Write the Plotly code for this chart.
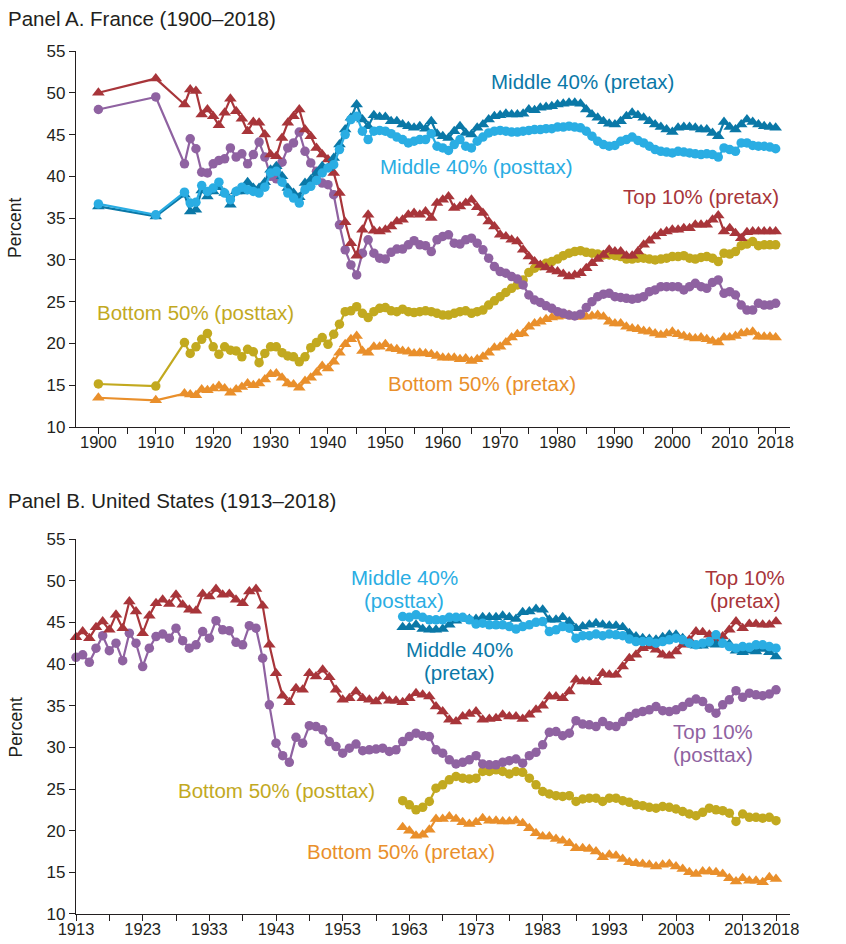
import plotly.graph_objects as go

# ---------------- Panel A: France ----------------
fr_years = [1900, 1910] + list(range(1915, 2019))

fr_top10_pre = [
    50.0, 51.7,
    48.6, 50.4, 50.2, 47.4, 48.0,
    47.2, 46.1, 47.6, 49.3, 47.8, 46.9, 45.4, 46.5, 46.4, 45.0,
    42.6, 42.4, 44.6, 46.4, 47.2, 48.0, 45.6, 44.8, 43.4, 42.6,
    42.0, 40.4, 38.0, 34.5, 32.0, 30.5, 33.6, 35.4, 33.5, 33.4,
    33.6, 34.0, 34.6, 34.8, 35.4, 35.6, 35.4, 35.8, 35.0, 36.8,
    37.2, 37.6, 36.2, 36.4, 36.8, 37.2, 36.3, 35.6, 34.6, 34.0,
    33.0, 32.8, 32.4, 32.2, 31.2, 30.4, 29.8, 29.4, 29.1, 28.8,
    28.6, 28.3, 28.0, 28.2, 28.4, 29.0, 29.6, 30.1, 30.6, 31.2,
    31.0, 31.0, 30.5, 30.5, 31.0, 31.8, 32.3, 32.8, 33.2, 33.4,
    33.6, 33.6, 33.8, 33.8, 34.2, 34.2, 34.2, 34.8, 35.3, 33.4,
    33.8, 33.2, 32.6, 33.3, 33.4, 33.4, 33.4, 33.4, 33.4,
]

fr_top10_post = [
    48.0, 49.5,
    41.5, 44.5, 43.3, 40.5, 40.4,
    41.5, 41.9, 42.1, 43.4, 42.3, 42.7, 41.5, 42.6, 44.1, 42.3,
    40.0, 39.7, 41.7, 43.4, 44.0, 45.3, 43.0, 41.6, 40.6, 39.2,
    39.0, 37.8, 34.2, 31.2, 29.4, 28.2, 30.8, 32.4, 30.8, 30.2,
    30.1, 30.9, 31.3, 31.3, 31.8, 32.3, 31.8, 31.7, 31.0, 32.4,
    32.8, 33.0, 32.0, 31.9, 32.4, 32.6, 32.0, 31.2, 30.2, 29.2,
    28.6, 28.4, 28.0, 27.7, 27.0, 25.8, 25.2, 24.9, 24.5, 24.2,
    23.8, 23.6, 23.4, 23.3, 23.5, 24.3, 25.0, 25.6, 25.9, 26.0,
    25.6, 25.5, 25.4, 25.3, 25.4, 25.6, 26.2, 26.4, 26.8, 26.8,
    26.8, 26.8, 26.4, 26.8, 27.2, 26.8, 26.6, 27.3, 27.6, 26.0,
    26.2, 25.8, 24.6, 24.0, 24.0, 24.8, 24.6, 24.6, 24.8,
]

fr_mid40_pre = [
    36.4, 35.2,
    37.8, 35.8, 36.0, 38.3, 37.6,
    38.2, 38.7, 38.0, 36.6, 38.2, 38.2, 39.3, 38.6, 38.6, 39.3,
    40.8, 41.2, 40.0, 38.6, 38.0, 37.5, 39.2, 39.6, 40.4, 41.2,
    41.0, 42.2, 43.8, 45.6, 47.0, 48.6, 46.8, 46.0, 47.3, 47.1,
    47.1, 46.6, 46.6, 46.2, 46.0, 45.8, 46.0, 45.7, 46.6, 45.1,
    44.8, 44.6, 45.4, 46.0, 45.2, 45.0, 45.8, 46.2, 46.8, 47.2,
    47.3, 47.5, 47.4, 47.4, 47.5, 48.0, 47.9, 48.2, 48.3, 48.4,
    48.6, 48.7, 48.8, 48.8, 48.7, 48.0, 47.4, 47.0, 46.6, 46.3,
    46.2, 46.6, 47.2, 47.6, 47.3, 47.0, 46.6, 46.2, 45.9, 45.6,
    45.3, 45.8, 45.9, 45.9, 45.8, 45.6, 45.6, 45.2, 44.8, 46.5,
    45.9, 45.6, 46.2, 46.8, 46.5, 46.2, 46.0, 45.9, 45.8,
]

fr_mid40_post = [
    36.7, 35.4,
    38.1, 36.8, 36.9, 38.9, 38.2,
    38.6, 39.3, 38.0, 37.2, 38.2, 38.7, 38.4, 38.2, 38.0, 38.7,
    40.4, 40.6, 39.3, 38.0, 37.4, 36.8, 38.4, 38.8, 39.5, 40.4,
    41.0, 41.4, 43.2, 45.0, 46.8, 47.2, 45.4, 44.4, 45.4, 45.5,
    45.4, 45.1, 44.7, 44.4, 44.0, 44.2, 44.4, 44.4, 45.1, 43.6,
    43.4, 43.1, 43.8, 44.4, 43.6, 43.4, 44.2, 44.7, 45.2, 45.4,
    45.5, 45.4, 45.3, 45.3, 45.4, 45.5, 45.6, 45.6, 45.7, 45.7,
    45.9, 45.9, 46.0, 45.9, 45.8, 45.4, 44.8, 44.2, 43.8, 43.6,
    43.7, 44.2, 44.4, 44.7, 44.3, 44.0, 43.6, 43.2, 43.0, 42.9,
    42.8, 43.0, 42.9, 42.8, 42.7, 42.6, 42.7, 42.6, 42.3, 43.4,
    43.2, 43.0, 44.0, 44.0, 43.7, 43.6, 43.6, 43.5, 43.3,
]

fr_bot50_post = [
    15.15, 14.9,
    20.1, 18.8, 19.6, 20.5, 21.2,
    19.6, 18.7, 19.6, 19.2, 19.1, 18.4, 19.3, 19.0, 17.7, 18.8,
    19.6, 19.6, 18.9, 18.5, 18.4, 17.8, 18.4, 19.5, 20.1, 20.7,
    19.9, 21.1, 22.3, 23.8, 23.9, 24.4, 23.6, 23.1, 23.8, 24.2,
    24.3, 23.9, 23.8, 24.1, 23.8, 23.7, 23.8, 23.9, 23.8, 23.6,
    23.4, 23.4, 23.6, 23.8, 23.9, 23.6, 23.8, 24.0, 24.6, 25.1,
    25.6, 26.1, 26.6, 27.0, 27.6, 28.5, 29.0, 29.3, 29.6, 29.8,
    30.1, 30.5, 30.8, 31.0, 31.1, 30.9, 30.8, 30.7, 30.6, 30.6,
    30.5, 30.4, 30.1, 30.1, 30.2, 30.2, 30.1, 30.0, 30.1, 30.2,
    30.4, 30.4, 30.5, 30.2, 30.1, 30.3, 30.4, 30.2, 29.8, 30.8,
    30.7, 31.0, 31.7, 31.9, 32.2, 31.7, 31.8, 31.8, 31.8,
]

fr_bot50_pre = [
    13.5, 13.2,
    14.0, 13.9, 13.8, 14.5, 14.4,
    14.6, 14.9, 14.6, 14.1, 14.5, 14.8, 15.2, 15.0, 15.2, 15.7,
    16.3, 16.4, 15.9, 15.2, 15.1, 14.7, 15.5, 15.9, 16.5, 17.3,
    17.0, 17.8, 18.9, 19.9, 20.5, 20.9, 19.1, 18.9, 19.6, 19.6,
    19.9, 19.4, 19.3, 19.1, 19.0, 18.8, 18.9, 18.8, 18.7, 18.5,
    18.3, 18.3, 18.3, 18.1, 18.2, 17.9, 18.1, 18.4, 18.9, 19.5,
    19.6, 20.1, 20.7, 21.1, 21.2, 22.0, 22.4, 22.6, 22.9, 23.1,
    23.2, 23.3, 23.4, 23.2, 23.2, 23.2, 23.3, 23.4, 23.2, 22.6,
    22.4, 22.4, 22.0, 21.8, 21.7, 21.5, 21.4, 21.2, 21.0, 21.2,
    21.4, 21.1, 20.9, 20.7, 20.6, 20.7, 20.5, 20.3, 20.1, 20.7,
    20.7, 20.9, 21.2, 21.3, 21.4, 20.8, 20.8, 20.8, 20.7,
]

# ---------------- Panel B: United States ----------------
us_years_top = list(range(1913, 2019))
us_years_low = list(range(1962, 2019))

us_top10_pre = [
    43.2, 43.9, 43.1, 44.4, 45.1, 44.1, 45.9,
    44.3, 47.5, 46.3, 43.7, 45.8, 47.3, 47.7, 47.2, 48.3, 47.1,
    46.5, 46.4, 48.4, 48.1, 49.0, 48.3, 48.4, 47.7, 47.3, 48.7,
    49.0, 47.0, 42.3, 38.9, 36.2, 35.4, 37.1, 36.9, 38.9, 38.5,
    39.3, 38.4, 36.9, 35.7, 35.9, 36.7, 35.9, 35.7, 35.5, 36.1,
    35.6, 35.6, 35.4, 35.9, 36.5, 36.3, 36.1, 34.9, 34.3, 33.3,
    33.1, 33.7, 34.0, 34.3, 33.3, 33.4, 33.5, 33.9, 33.7, 33.7,
    33.4, 33.9, 34.5, 35.0, 36.1, 36.1, 35.9, 36.7, 38.1, 37.9,
    37.9, 37.8, 38.9, 38.7, 38.7, 39.7, 40.7, 41.1, 41.9, 42.1,
    41.7, 41.1, 41.0, 41.5, 42.3, 42.9, 43.9, 43.8, 43.5, 42.9,
    43.3, 44.1, 45.1, 44.3, 44.8, 44.8, 44.7, 44.7, 45.1,
]

us_top10_post = [
    40.8, 41.1, 40.2, 41.9, 43.4, 41.6, 42.5,
    40.4, 43.7, 42.5, 39.7, 41.9, 43.3, 43.6, 43.1, 44.3, 42.8,
    41.9, 42.3, 43.9, 43.1, 45.2, 44.1, 44.0, 42.6, 42.3, 44.6,
    44.3, 40.7, 35.1, 30.5, 29.0, 28.2, 31.2, 30.5, 32.6, 32.5,
    32.1, 30.7, 30.1, 29.3, 29.9, 30.4, 29.6, 29.7, 29.8, 29.9,
    29.5, 29.7, 30.7, 31.3, 31.7, 31.4, 31.3, 29.7, 29.3, 28.5,
    28.0, 28.2, 28.5, 29.0, 28.0, 27.9, 27.9, 28.2, 28.4, 28.6,
    28.1, 29.0, 29.4, 30.3, 31.8, 31.9, 31.4, 31.7, 33.2, 32.8,
    32.7, 32.5, 33.1, 32.6, 32.5, 33.1, 33.7, 34.1, 34.3, 34.5,
    34.9, 34.4, 34.3, 34.5, 34.9, 35.4, 35.8, 35.5, 34.7, 34.1,
    35.1, 35.7, 36.8, 36.0, 36.5, 36.3, 36.2, 36.4, 36.9,
]

us_mid40_pre = [
    44.4, 44.4, 44.7, 44.2, 44.1, 44.1, 44.2, 44.7,
    45.2, 45.5, 45.4, 45.4, 45.6, 45.6, 45.6, 45.8, 45.6, 45.4,
    46.2, 46.3, 46.6, 46.5, 45.3, 45.3, 45.6, 45.1, 44.3, 44.5,
    44.7, 44.9, 44.7, 44.6, 44.6, 44.4, 43.7, 43.3, 43.1, 43.0,
    42.9, 43.2, 43.5, 43.5, 43.1, 42.5, 42.2, 42.2, 42.4, 42.3,
    42.6, 42.4, 41.6, 41.4, 41.6, 41.5, 41.8, 41.4, 40.9,
]

us_mid40_post = [
    45.7, 45.6, 45.9, 45.6, 45.3, 45.3, 45.3, 45.6,
    45.6, 45.6, 45.3, 44.8, 44.9, 44.7, 44.7, 44.7, 44.5, 44.2,
    44.5, 44.7, 45.0, 45.1, 43.9, 44.1, 44.5, 44.3, 43.1, 43.4,
    43.4, 43.6, 43.4, 43.6, 43.5, 43.4, 43.0, 42.7, 42.7, 42.7,
    42.5, 42.7, 42.9, 43.1, 42.9, 42.5, 42.3, 42.5, 42.7, 43.5,
    42.5, 42.1, 41.9, 42.1, 42.0, 42.3, 42.3, 42.1, 41.9,
]

us_bot50_post = [
    23.6, 23.1, 22.5, 22.8, 23.5, 25.1, 25.5, 26.1,
    26.5, 26.3, 26.2, 26.3, 27.1, 27.1, 27.3, 27.1, 26.8, 27.1,
    27.0, 26.3, 25.5, 24.7, 24.4, 24.2, 24.1, 24.2, 23.5, 23.8,
    23.9, 23.9, 23.5, 23.9, 23.9, 23.6, 23.4, 23.1, 23.0, 22.8,
    22.7, 22.9, 22.8, 22.6, 22.3, 22.0, 21.8, 22.2, 22.7, 22.5,
    22.4, 22.1, 21.1, 22.0, 21.6, 21.6, 21.5, 21.6, 21.2,
]

us_bot50_pre = [
    20.4, 20.0, 19.4, 19.5, 20.1, 21.4, 21.4, 21.7,
    21.4, 21.0, 20.8, 21.0, 21.5, 21.2, 21.2, 21.1, 21.1, 21.2,
    20.9, 20.3, 19.7, 19.3, 19.3, 19.0, 18.8, 18.5, 17.9, 17.9,
    17.8, 17.5, 16.8, 17.1, 17.0, 16.6, 16.2, 16.1, 16.0, 15.9,
    15.7, 15.9, 16.0, 15.7, 15.4, 15.0, 14.8, 15.1, 15.1, 15.0,
    14.8, 14.3, 13.9, 14.3, 14.0, 14.0, 13.8, 14.4, 14.2,
]

# Tick labels
fr_tickvals = list(range(1900, 2016, 5)) + [2018]
fr_ticktext = [str(v) if v % 10 == 0 else "" for v in range(1900, 2016, 5)] + ["2018"]
us_tickvals = list(range(1913, 2019, 5))
us_ticktext = [str(v) if (v - 1913) % 10 == 0 else "" for v in us_tickvals]
us_last_tick = [2018]
us_last_text = ["2018"]
y_tickvals = list(range(10, 56, 5))

# Colours
C_T10PRE = "#a8353a"
C_T10POST = "#8f62a1"
C_M40PRE = "#0a78a7"
C_M40POST = "#2aade3"
C_B50POST = "#c2a91f"
C_B50PRE = "#e98f2b"
INK = "#231f20"
FONT = "Liberation Sans, Arial, Helvetica, sans-serif"
XTICK_SIZE = 16.5
YTICK_SIZE = 17

fig = go.Figure()


def add(x, y, color, symbol, xa, ya):
    size = 11 if symbol == "triangle-up" else 9.5
    fig.add_trace(go.Scatter(
        x=x, y=y, mode="lines+markers",
        line=dict(color=color, width=2.2),
        marker=dict(symbol=symbol, size=size, color=color, line=dict(width=0)),
        xaxis=xa, yaxis=ya, cliponaxis=False, showlegend=False, hoverinfo="skip"))


# Panel A
add(fr_years, fr_bot50_pre, C_B50PRE, "triangle-up", "x", "y")
add(fr_years, fr_bot50_post, C_B50POST, "circle", "x", "y")
add(fr_years, fr_top10_post, C_T10POST, "circle", "x", "y")
add(fr_years, fr_top10_pre, C_T10PRE, "triangle-up", "x", "y")
add(fr_years, fr_mid40_pre, C_M40PRE, "triangle-up", "x", "y")
add(fr_years, fr_mid40_post, C_M40POST, "circle", "x", "y")

# Panel B
add(us_years_low, us_bot50_pre, C_B50PRE, "triangle-up", "x2", "y2")
add(us_years_low, us_bot50_post, C_B50POST, "circle", "x2", "y2")
add(us_years_top, us_top10_post, C_T10POST, "circle", "x2", "y2")
add(us_years_top, us_top10_pre, C_T10PRE, "triangle-up", "x2", "y2")
add(us_years_low, us_mid40_pre, C_M40PRE, "triangle-up", "x2", "y2")
add(us_years_low, us_mid40_post, C_M40POST, "circle", "x2", "y2")

# empty trace so that the overlay axis carrying the last label is drawn
fig.add_trace(go.Scatter(x=[], y=[], xaxis="x3", yaxis="y2", showlegend=False,
                         hoverinfo="skip"))

axis_common = dict(
    showline=True, linecolor=INK, linewidth=1.2,
    ticks="outside", ticklen=6, tickwidth=1.2, tickcolor=INK,
    showgrid=False, zeroline=False, automargin=False, tickangle=0,
)
xfont = dict(family=FONT, size=XTICK_SIZE, color=INK)
yfont = dict(family=FONT, size=YTICK_SIZE, color=INK)

fig.update_layout(
    width=846, height=944,
    margin=dict(l=76, r=56, t=51, b=30),
    plot_bgcolor="white", paper_bgcolor="white",
    showlegend=False,
    xaxis=dict(domain=[0, 1], anchor="y", range=[1896.1, 2020.5],
               tickmode="array", tickvals=fr_tickvals, ticktext=fr_ticktext,
               tickfont=xfont, ticklabelstandoff=-6, **axis_common),
    yaxis=dict(domain=[0.5643, 1], anchor="x", range=[10, 55],
               tickmode="array", tickvals=y_tickvals, tickfont=yfont, **axis_common),
    xaxis2=dict(domain=[0, 1], anchor="y2", range=[1913, 2020.1],
                tickmode="array", tickvals=us_tickvals, ticktext=us_ticktext,
                tickfont=xfont, ticklabelstandoff=-6, **axis_common),
    yaxis2=dict(domain=[0, 0.4345], anchor="x2", range=[10, 55],
                tickmode="array", tickvals=y_tickvals, tickfont=yfont, **axis_common),
    xaxis3=dict(overlaying="x2", anchor="y2", range=[1913, 2020.1], side="bottom",
                tickmode="array", tickvals=us_last_tick, ticktext=us_last_text,
                showline=False, showgrid=False, zeroline=False, ticks="outside",
                ticklen=6, tickwidth=1.2, tickcolor=INK, tickangle=0,
                ticklabelshift=5, ticklabelstandoff=-6, automargin=False,
                tickfont=xfont),
)

ANN = 20.5
labels = [
    # Panel A
    ("Middle 40% (pretax)", 1984.4, 51.35, C_M40PRE, "x", "y"),
    ("Middle 40% (posttax)", 1965.8, 41.2, C_M40POST, "x", "y"),
    ("Top 10% (pretax)", 2005.0, 37.6, C_T10PRE, "x", "y"),
    ("Top 10%", 2022.8, 29.14, C_T10POST, "x", "y"),
    ("(posttax)", 2022.9, 26.38, C_T10POST, "x", "y"),
    ("Bottom 50% (posttax)", 1917.0, 23.7, C_B50POST, "x", "y"),
    ("Bottom 50% (pretax)", 1966.9, 15.2, C_B50PRE, "x", "y"),
    # Panel B
    ("Middle 40%", 1962.3, 50.42, C_M40POST, "x2", "y2"),
    ("(posttax)", 1962.25, 47.66, C_M40POST, "x2", "y2"),
    ("Middle 40%", 1970.5, 41.78, C_M40PRE, "x2", "y2"),
    ("(pretax)", 1970.5, 39.02, C_M40PRE, "x2", "y2"),
    ("Top 10%", 2013.4, 50.42, C_T10PRE, "x2", "y2"),
    ("(pretax)", 2013.4, 47.66, C_T10PRE, "x2", "y2"),
    ("Top 10%", 2008.5, 31.88, C_T10POST, "x2", "y2"),
    ("(posttax)", 2008.5, 29.12, C_T10POST, "x2", "y2"),
    ("Bottom 50% (posttax)", 1943.1, 24.8, C_B50POST, "x2", "y2"),
    ("Bottom 50% (pretax)", 1961.75, 17.5, C_B50PRE, "x2", "y2"),
]
for text, x, y, color, xr, yr in labels:
    fig.add_annotation(text=text, x=x, y=y, xref=xr, yref=yr, showarrow=False,
                       xanchor="center", yanchor="middle",
                       font=dict(family=FONT, size=ANN, color=color))

# Panel titles and axis titles
fig.add_annotation(text="Panel A. France (1900–2018)", xref="paper", yref="paper",
                   x=-0.098, y=1.0382, xanchor="left", yanchor="middle", showarrow=False,
                   font=dict(family=FONT, size=20.5, color=INK))
fig.add_annotation(text="Panel B. United States (1913–2018)", xref="paper", yref="paper",
                   x=-0.098, y=0.4797, xanchor="left", yanchor="middle", showarrow=False,
                   font=dict(family=FONT, size=20.5, color=INK))
for yc in (0.795, 0.2161):
    fig.add_annotation(text="Percent", xref="paper", yref="paper", x=-0.0854, y=yc,
                       xanchor="center", yanchor="middle", textangle=-90, showarrow=False,
                       font=dict(family=FONT, size=17.5, color=INK))

fig.write_html(
    "out.html",
    config={"displayModeBar": False},
    post_script="document.body.style.margin='0';document.body.style.overflow='hidden';",
)
